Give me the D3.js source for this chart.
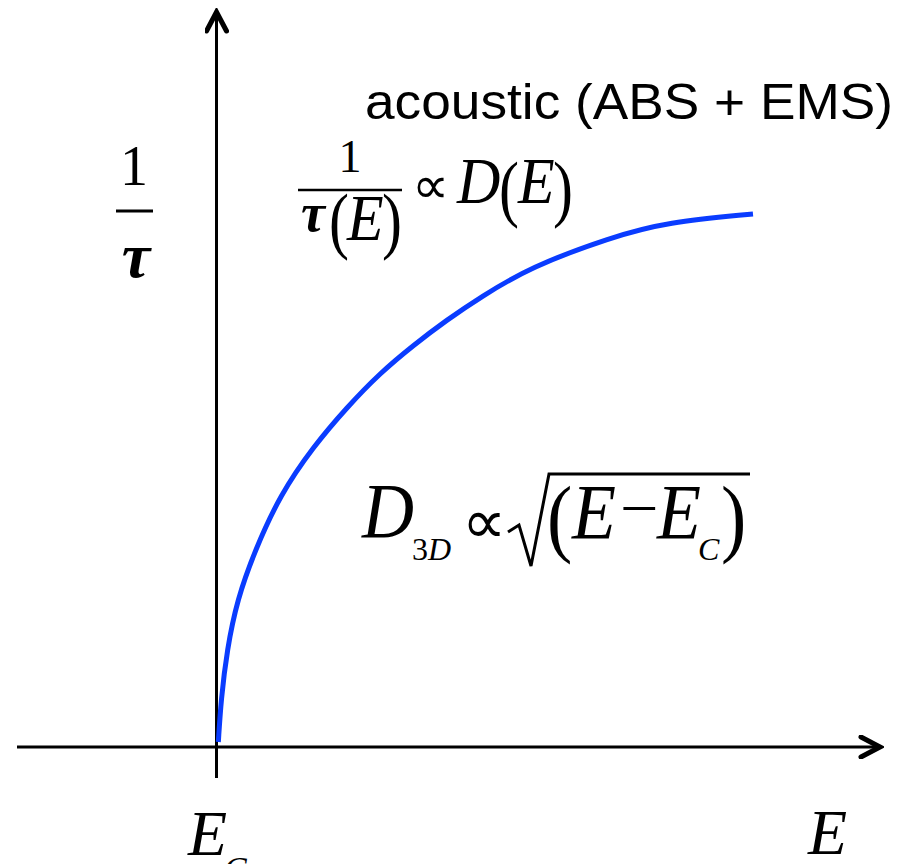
<!DOCTYPE html>
<html>
<head>
<meta charset="utf-8">
<script src="https://cdn.jsdelivr.net/npm/d3@7"></script>
<style>
  html, body { margin: 0; padding: 0; background: #fff; }
  svg { display: block; }
  .serif { font-family: "Liberation Serif", "Times New Roman", serif; fill: #000; }
  .sans { font-family: "Liberation Sans", Arial, sans-serif; fill: #000; }
</style>
</head>
<body>
<svg id="chart" width="912" height="864"></svg>
<script>
// Energy above the band edge, E - E_C (arbitrary units)
const energy = [0.02, 0.06, 0.15, 0.30, 0.57, 0.94, 1.43, 1.94, 2.43, 2.93, 3.43, 3.93, 4.67, 5.87, 6.72, 8.0];
// Scattering rate 1/tau (arbitrary units)
const rate = [0.075, 0.71, 1.46, 2.21, 2.96, 3.78, 4.50, 5.10, 5.61, 6.03, 6.41, 6.75, 7.20, 7.65, 7.88, 8.0];

const svg = d3.select("#chart");

// origin of the plot sits at the band edge E_C
const x = d3.scaleLinear().domain([0, 8]).range([217, 753]);
const y = d3.scaleLinear().domain([0, 8]).range([747, 214]);

const axisColor = "#000";

// arrowhead marker: open chevron
const defs = svg.append("defs");
defs.append("marker")
  .attr("id", "arrow")
  .attr("viewBox", "-22 -12 26 24")
  .attr("refX", 0).attr("refY", 0)
  .attr("markerWidth", 26).attr("markerHeight", 24)
  .attr("markerUnits", "userSpaceOnUse")
  .attr("orient", "auto")
  .append("path")
  .attr("d", "M-19,-10 L0,0 L-19,10")
  .attr("fill", "none")
  .attr("stroke", axisColor)
  .attr("stroke-width", 5)
  .attr("stroke-linecap", "round")
  .attr("stroke-linejoin", "miter");

// horizontal (E) axis
svg.append("line")
  .attr("x1", 17).attr("y1", y(0))
  .attr("x2", 880).attr("y2", y(0))
  .attr("stroke", axisColor).attr("stroke-width", 3)
  .attr("marker-end", "url(#arrow)");

// vertical (1/tau) axis
svg.append("line")
  .attr("x1", x(0) - 0.5).attr("y1", 778)
  .attr("x2", x(0) - 0.5).attr("y2", 12)
  .attr("stroke", axisColor).attr("stroke-width", 3)
  .attr("marker-end", "url(#arrow)");

// rate curve, smoothed through the sampled values
const line = d3.line()
  .x((d, i) => x(energy[i]))
  .y((d, i) => y(rate[i]))
  .curve(d3.curveBasis);

svg.append("path")
  .datum(rate)
  .attr("d", line)
  .attr("fill", "none")
  .attr("stroke", "#0a3cff")
  .attr("stroke-width", 5);

// ---- labels ----
// regime title
svg.append("text").attr("class", "sans")
  .attr("x", 365).attr("y", 119)
  .attr("font-size", 50)
  .attr("textLength", 528).attr("lengthAdjust", "spacingAndGlyphs")
  .text("acoustic (ABS + EMS)");

// y-axis label 1/tau
svg.append("text").attr("class", "serif")
  .attr("x", 134).attr("y", 185).attr("text-anchor", "middle")
  .attr("font-size", 56).text("1");
svg.append("line")
  .attr("x1", 116).attr("x2", 153).attr("y1", 211).attr("y2", 211)
  .attr("stroke", "#000").attr("stroke-width", 3);
svg.append("text").attr("class", "serif")
  .attr("x", 136).attr("y", 277).attr("text-anchor", "middle")
  .attr("font-size", 64).attr("font-style", "italic").attr("font-weight", "bold")
  .text("τ");

// x-axis labels
svg.append("text").attr("class", "serif")
  .attr("x", 188).attr("y", 855)
  .attr("font-size", 64).attr("font-style", "italic").text("E");
svg.append("text").attr("class", "serif")
  .attr("x", 224).attr("y", 880)
  .attr("font-size", 34).attr("font-style", "italic").text("C");
svg.append("text").attr("class", "serif")
  .attr("x", 808).attr("y", 854)
  .attr("font-size", 64).attr("font-style", "italic").text("E");

// a glyph drawn at (x, baseline y), optionally stretched
function glyph(g, gx, gy, size, txt, opts = {}) {
  const t = g.append("text")
    .attr("transform", `translate(${gx},${gy}) scale(${opts.sx || 1},${opts.sy || 1})`)
    .attr("font-size", size)
    .text(txt);
  if (opts.italic) t.attr("font-style", "italic");
  if (opts.bold) t.attr("font-weight", "bold");
  if (opts.anchor) t.attr("text-anchor", opts.anchor);
  return t;
}

// formula: 1/tau(E) ∝ D(E)
const f1 = svg.append("g").attr("class", "serif");
glyph(f1, 350, 172, 46, "1", { anchor: "middle" });
f1.append("line").attr("x1", 298).attr("x2", 402).attr("y1", 190).attr("y2", 190)
  .attr("stroke", "#000").attr("stroke-width", 2.5);
glyph(f1, 313, 231, 54, "τ", { anchor: "middle", italic: true, bold: true });
glyph(f1, 329, 245, 60, "(", { sy: 1.22 });
glyph(f1, 347, 240, 60, "E", { italic: true, sy: 1.1 });
glyph(f1, 382, 245, 60, ")", { sy: 1.22 });
glyph(f1, 412, 203, 52, "∝");
glyph(f1, 457, 203, 60, "D", { italic: true, sy: 1.1 });
glyph(f1, 499, 213, 60, "(", { sy: 1.22 });
glyph(f1, 518, 203, 60, "E", { italic: true, sy: 1.1 });
glyph(f1, 553, 213, 60, ")", { sy: 1.22 });

// formula: D_3D ∝ sqrt((E - E_C))
const f2 = svg.append("g").attr("class", "serif");
glyph(f2, 362, 537, 72, "D", { italic: true, sy: 1.08 });
glyph(f2, 412, 560, 32, "3");
glyph(f2, 428, 560, 32, "D", { italic: true });
glyph(f2, 462, 543, 62, "∝");
// radical sign
f2.append("path")
  .attr("d", "M508,532 L519,525 L531,566 L549,474 L750,474")
  .attr("fill", "none").attr("stroke", "#000").attr("stroke-width", 3)
  .attr("stroke-linejoin", "miter");
glyph(f2, 547, 546, 76, "(", { sy: 1.15 });
glyph(f2, 572, 538, 72, "E", { italic: true, sy: 1.08 });
glyph(f2, 620, 529, 62, "−", { sx: 1.1 });
glyph(f2, 657, 538, 72, "E", { italic: true, sy: 1.08 });
glyph(f2, 698, 560, 32, "C", { italic: true });
glyph(f2, 721, 546, 76, ")", { sy: 1.15 });
</script>
</body>
</html>
